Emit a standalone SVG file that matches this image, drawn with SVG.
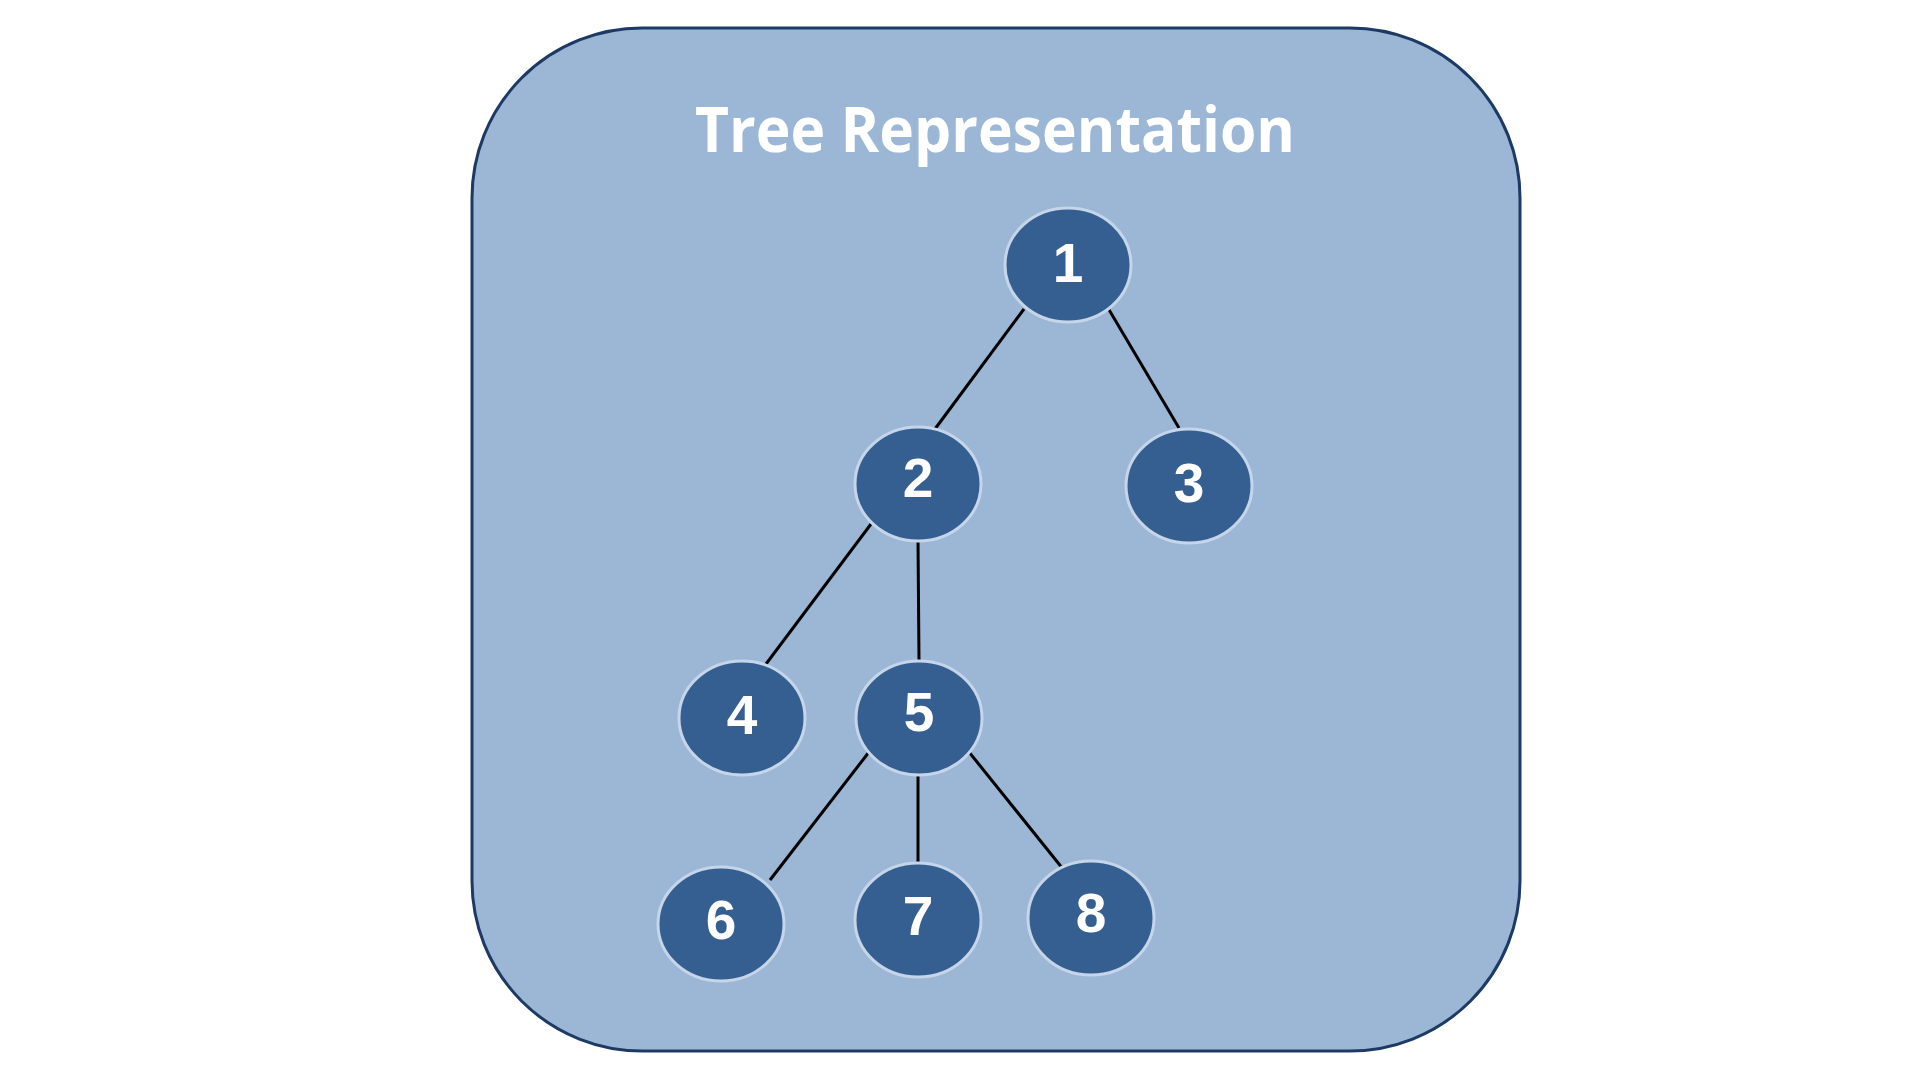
<svg xmlns="http://www.w3.org/2000/svg" width="1920" height="1080" viewBox="0 0 1920 1080">
<style>
.node ellipse{fill:#365F91;stroke:#C5D5EA;stroke-width:3}
.node text{font-family:"Liberation Sans",Arial,sans-serif;font-weight:bold;font-size:55px;fill:#FFFFFF;text-anchor:middle}
.edges line{stroke:#000000;stroke-width:3}
</style>
<rect x="0" y="0" width="1920" height="1080" fill="#FFFFFF"/>
<g id="frame">
<rect x="472" y="28" width="1048" height="1023" rx="170" ry="170" fill="#9CB6D5" stroke="#1C3A63" stroke-width="3"/>
<text x="995" y="152" font-family="'Open Sans','Noto Sans',sans-serif" font-weight="bold" font-size="62" fill="#FFFFFF" text-anchor="middle" textLength="600" lengthAdjust="spacingAndGlyphs">Tree Representation</text>
</g>
<g class="edges" id="connectors">
<line x1="1024" y1="309" x2="935" y2="429"/>
<line x1="1108" y1="308" x2="1179" y2="428"/>
<line x1="871" y1="524" x2="766" y2="664"/>
<line x1="918" y1="540" x2="919" y2="661"/>
<line x1="869" y1="752" x2="770" y2="880"/>
<line x1="918" y1="774" x2="918" y2="862"/>
<line x1="969" y1="752" x2="1063" y2="869"/>
</g>
<g class="node" id="node1"><ellipse cx="1068" cy="265" rx="63" ry="57"/><text x="1068" y="282">1</text></g>
<g class="node" id="node2"><ellipse cx="918" cy="484" rx="63" ry="57"/><text x="918" y="497">2</text></g>
<g class="node" id="node3"><ellipse cx="1189" cy="486" rx="63" ry="57"/><text x="1189" y="502">3</text></g>
<g class="node" id="node4"><ellipse cx="742" cy="718" rx="63" ry="57"/><text x="742" y="734">4</text></g>
<g class="node" id="node5"><ellipse cx="919" cy="718" rx="63" ry="57"/><text x="919" y="731">5</text></g>
<g class="node" id="node6"><ellipse cx="721" cy="924" rx="63" ry="57"/><text x="721" y="939">6</text></g>
<g class="node" id="node7"><ellipse cx="918" cy="920" rx="63" ry="57"/><text x="918" y="935">7</text></g>
<g class="node" id="node8"><ellipse cx="1091" cy="918" rx="63" ry="57"/><text x="1091" y="932">8</text></g>
</svg>
